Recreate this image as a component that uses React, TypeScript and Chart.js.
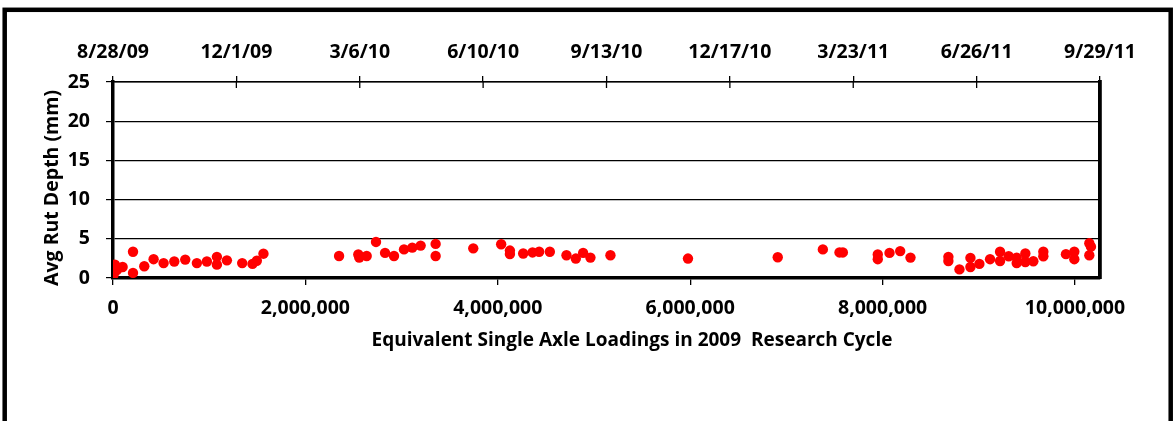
import React, { useEffect, useRef } from "react";
import { Chart, registerables } from "chart.js";

Chart.register(...registerables);

const dateLabels = ["8/28/09", "12/1/09", "3/6/10", "6/10/10", "9/13/10", "12/17/10", "3/23/11", "6/26/11", "9/29/11"];

const esalTicks = [0, 2000000, 4000000, 6000000, 8000000, 10000000];

const esal = [
  6000, 20000, 40000, 100000, 208000, 208000, 325000, 422000, 526000, 637000,
  751000, 872000, 976000, 1080000, 1080000, 1184000, 1343000, 1450000, 1495000, 1564000,
  2350000, 2550000, 2560000, 2637000, 2734000, 2828000, 2921000, 3025000, 3111000, 3198000,
  3354000, 3354000, 3745000, 4035000, 4126000, 4126000, 4264000, 4361000, 4430000, 4541000,
  4714000, 4811000, 4887000, 4963000, 5171000, 5977000, 6910000, 7379000, 7552000, 7587000,
  7950000, 7950000, 8072000, 8183000, 8290000, 8684000, 8684000, 8799000, 8913000, 8913000,
  9006000, 9117000, 9221000, 9221000, 9311000, 9394000, 9394000, 9484000, 9484000, 9567000,
  9671000, 9671000, 9906000, 9993000, 9993000, 10149000, 10166000, 10149000,
];

const rutDepth = [
  0.4, 1.7, 1.0, 1.4, 3.35, 0.65, 1.5, 2.4, 1.9, 2.1,
  2.35, 1.9, 2.1, 2.7, 1.7, 2.25, 1.9, 1.8, 2.2, 3.1,
  2.8, 3.0, 2.6, 2.8, 4.6, 3.2, 2.8, 3.65, 3.87, 4.13,
  4.35, 2.8, 3.78, 4.3, 3.5, 3.05, 3.13, 3.26, 3.35, 3.35,
  2.9, 2.48, 3.2, 2.6, 2.9, 2.48, 2.65, 3.65, 3.26, 3.26,
  3.0, 2.4, 3.2, 3.43, 2.6, 2.7, 2.17, 1.1, 2.56, 1.4,
  1.8, 2.4, 3.35, 2.17, 2.78, 2.6, 1.9, 3.13, 2.04, 2.13,
  3.35, 2.78, 3.04, 3.35, 2.4, 4.43, 4.0, 2.9,
];

const yTicks = [0, 5, 10, 15, 20, 25];
const xMax = 10260000;

const xTitle = "Equivalent Single Axle Loadings in 2009  Research Cycle";
const yTitle = "Avg Rut Depth (mm)";

const FONT = "'Open Sans', sans-serif";

const framePlugin = {
  id: "frame",
  beforeDraw(chart: any) {
    const ctx = chart.ctx;
    ctx.save();
    ctx.fillStyle = "#fff";
    ctx.fillRect(0, 0, chart.width, chart.height);
    ctx.strokeStyle = "#000";
    ctx.lineWidth = 4.5;
    ctx.strokeRect(4.7, 9.8, 1166, 500);
    ctx.restore();
  },
  afterDraw(chart: any) {
    const s = chart.scales.x2;
    const ctx = chart.ctx;
    ctx.save();
    ctx.strokeStyle = "#000";
    ctx.lineWidth = 1.3;
    s.ticks.forEach((t: any) => {
      const px = s.getPixelForValue(t.value);
      ctx.beginPath();
      ctx.moveTo(px, chart.chartArea.top);
      ctx.lineTo(px, chart.chartArea.top + 6);
      ctx.stroke();
    });
    // axis titles
    ctx.fillStyle = "#000";
    ctx.font = `bold 19px ${FONT}`;
    ctx.textAlign = "center";
    ctx.textBaseline = "middle";
    ctx.fillText(xTitle, 632, 341);
    ctx.translate(52, 188);
    ctx.rotate(-Math.PI / 2);
    ctx.font = `bold 19.5px ${FONT}`;
    ctx.fillText(yTitle, 0, 0);
    ctx.restore();
  },
};

export default function App() {
  const ref = useRef<HTMLCanvasElement>(null);
  useEffect(() => {
    const canvas = ref.current!;
    const tickFont = { family: FONT, size: 19.5, weight: "bold" as const };
    const chart = new Chart(canvas, {
      type: "scatter",
      data: {
        datasets: [
          {
            data: esal.map((x, i) => ({ x, y: rutDepth[i] })),
            backgroundColor: "#ff0000",
            borderWidth: 0,
            pointRadius: 5.2,
            xAxisID: "x",
            yAxisID: "y",
          },
        ],
      },
      options: {
        animation: false,
        responsive: false,
        devicePixelRatio: 1,
        layout: { padding: { left: 38, right: 76, top: 0, bottom: 66 } },
        plugins: { legend: { display: false }, tooltip: { enabled: false } },
        scales: {
          x: {
            type: "linear",
            position: "bottom",
            min: 0,
            max: xMax,
            ticks: {
              color: "#000",
              font: tickFont,
              padding: 12,
              maxRotation: 0,
              autoSkip: false,
              callback: (v: any) => Number(v).toLocaleString("en-US"),
            },
            afterBuildTicks: (s: any) => {
              s.ticks = esalTicks.map((v) => ({ value: v }));
            },
            afterFit: (s: any) => {
              s.height = 77;
            },
            grid: { drawOnChartArea: false, drawTicks: true, tickLength: 7, color: "#000", lineWidth: 1.3 },
            border: { color: "#000", width: 3.5 },
          },
          x2: {
            type: "linear",
            position: "top",
            min: 0,
            max: dateLabels.length - 1,
            ticks: {
              stepSize: 1,
              color: "#000",
              font: tickFont,
              padding: 12,
              maxRotation: 0,
              autoSkip: false,
              callback: (v: any) => dateLabels[v] ?? "",
            },
            afterFit: (s: any) => {
              s.height = 82;
            },
            grid: { drawOnChartArea: false, drawTicks: true, tickLength: 6, color: "#000", lineWidth: 1.3 },
            border: { color: "#000", width: 1.5 },
          },
          y: {
            type: "linear",
            position: "left",
            min: yTicks[0],
            max: yTicks[yTicks.length - 1],
            ticks: {
              stepSize: 5,
              color: "#000",
              font: tickFont,
              padding: 16,
            },
            afterBuildTicks: (s: any) => {
              s.ticks = yTicks.map((v) => ({ value: v }));
            },
            afterFit: (s: any) => {
              s.width = 75;
            },
            grid: { color: "#000", lineWidth: 1.2, drawTicks: true, tickLength: 7 },
            border: { color: "#000", width: 3.5 },
          },
          y2: {
            type: "linear",
            position: "right",
            min: 0,
            max: 25,
            ticks: { display: false },
            grid: { display: false },
            afterFit: (s: any) => {
              s.width = 0;
            },
            border: { color: "#000", width: 3.8 },
          },
        },
      },
      plugins: [framePlugin],
    });
    return () => chart.destroy();
  }, []);
  return (
    <div style={{ position: "absolute", left: 0, top: 0, width: 1176, height: 421 }}>
      <canvas ref={ref} width={1176} height={421} style={{ width: 1176, height: 421, display: "block" }} />
    </div>
  );
}
